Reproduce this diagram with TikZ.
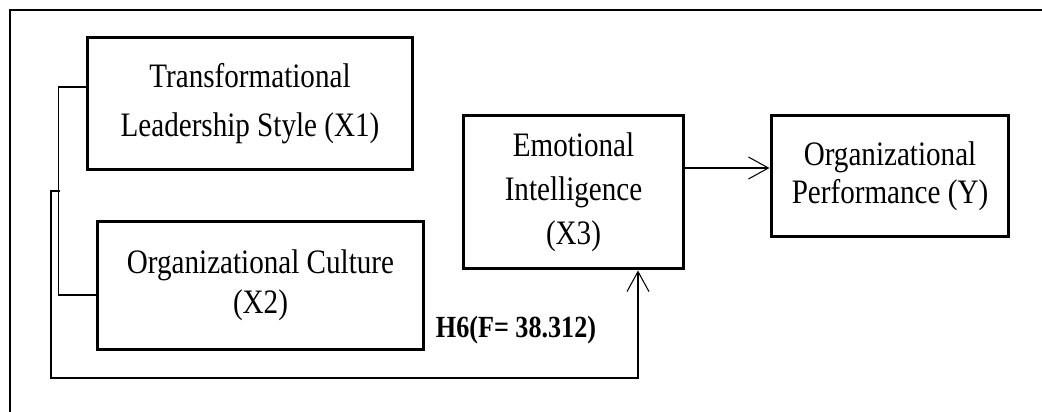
\documentclass[tikz,border=0pt]{standalone}
\usepackage{fontspec}
\setmainfont{Liberation Serif}[FakeStretch=0.85]
\usetikzlibrary{arrows.meta}

\tikzset{
  box/.style={draw, line width=1.7pt, align=center, inner sep=0pt,
    font=\fontsize{19.5}{27.8}\selectfont},
  conn/.style={line width=0.6pt},
  tip/.style={-{Straight Barb[length=4mm, width=4.4mm, line width=0.6pt]}}
}

\begin{document}
\begin{tikzpicture}[x=0.02cm, y=-0.02cm]
  \useasboundingbox (0,0) rectangle (1042,412);
  % frame
  \draw[line width=0.8pt] (10,412) -- (10,10) -- (1042,10);

  \node[box, minimum width=6.52cm, minimum height=2.66cm] (x1) at (250,103.5)
    {Transformational\\Leadership Style (X1)};
  \node[box, minimum width=6.54cm, minimum height=2.58cm,
    font=\fontsize{19.5}{22.7}\selectfont] (x2) at (260.5,285.5)
    {Organizational Culture\\(X2)};
  \node[box, minimum width=4.42cm, minimum height=3.08cm,
    font=\fontsize{19.5}{25}\selectfont] (x3) at (573.5,192)
    {Emotional\\Intelligence\\(X3)};
  \node[box, minimum width=4.76cm, minimum height=2.44cm,
    font=\fontsize{19.5}{21.5}\selectfont] (y) at (890,176)
    {Organizational\\Performance (Y)};
  \node[font=\bfseries\fontsize{17.5}{20}\selectfont] (lbl) at (516,330) {H6(F= 38.312)};

  % bracket joining X1 and X2
  \draw[conn] ([yshift=0.33cm]x1.west) -- ++(-0.54cm,0) |- ([yshift=-0.19cm]x2.west);
  \coordinate (j) at (60,191);
  \coordinate (turn) at (51,378);
  \draw[conn, tip] (j) -| (turn) -| ([xshift=1.29cm]x3.south);

  % X3 to Y
  \draw[conn, tip] ([yshift=0.48cm]x3.east) -- ([yshift=0.48cm]x3.east -| y.west);
\end{tikzpicture}
\end{document}
